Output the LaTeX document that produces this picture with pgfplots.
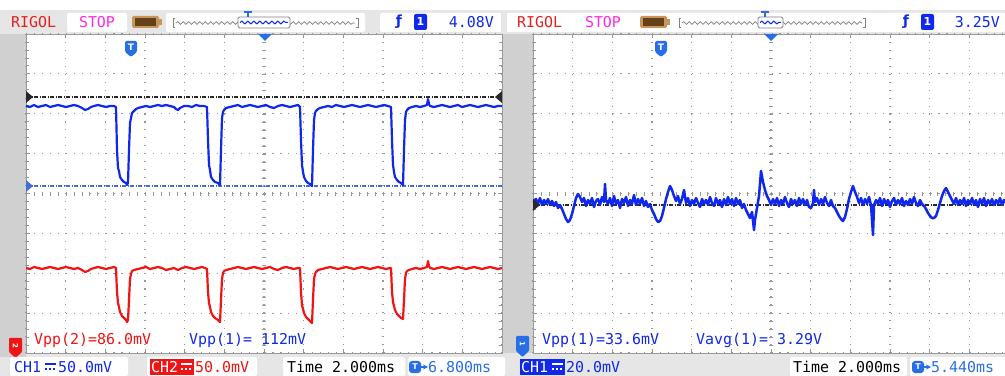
\documentclass[border=0pt]{standalone}
\usepackage{pgfplots}
\pgfplotsset{compat=1.18}
\usepackage{fontspec}
\setmainfont{DejaVu Sans}
\newfontfamily\scopefont{DejaVu Sans Mono}
\usetikzlibrary{decorations.pathmorphing}
\definecolor{hdr}{RGB}{230,230,230}
\definecolor{side}{RGB}{208,208,208}
\definecolor{chb}{RGB}{16,40,235}
\definecolor{chr}{RGB}{240,20,20}
\definecolor{tb}{RGB}{40,110,230}
\definecolor{mag}{RGB}{255,40,230}
\definecolor{rig}{RGB}{230,30,30}
\definecolor{gridc}{RGB}{150,150,150}
\definecolor{brownA}{RGB}{100,65,25}
\definecolor{brownB}{RGB}{200,150,90}
\definecolor{trigl}{RGB}{40,40,40}
\definecolor{gndl}{RGB}{70,110,210}
\newcommand\SF{\scopefont\fontsize{15}{15}\selectfont}
\pgfplotsset{scopescreen/.style={
  scale only axis, width=476bp, height=319bp,
  y dir=reverse, ymin=34, ymax=353,
  axis line style={draw=gray!80, line width=0.8bp},
  xticklabels={}, yticklabels={},
  ytick={34,73.875,113.75,153.625,193.5,233.375,273.25,313.125,353},
  grid=major,
  major grid style={gridc, line width=1.1bp, dash pattern=on 1.1bp off 6.85bp},
  minor tick num=4, tick align=inside, major tick length=4bp, minor tick length=3bp,
  tick style={gridc, line width=0.8bp},
  axis background/.style={fill=white},
  clip=true,
}}
\begin{document}
\begin{tikzpicture}
\useasboundingbox (0,0) rectangle (1005bp,376bp);
\clip (0,0) rectangle (1005bp,376bp);
\fill[hdr] (0,0) rectangle (1005bp,376bp);
\fill[white] (0,366bp) rectangle (1005bp,376bp);
\fill[side] (0,23bp) rectangle (26bp,342bp);
\fill[side] (502bp,23bp) rectangle (533bp,342bp);
\fill[side] (0,19bp) rectangle (26bp,23bp);

% ---------------- left screen ----------------
\begin{axis}[scopescreen, at={(26bp,23bp)}, anchor=south west,
  xmin=26, xmax=502,
  xtick={26,65.667,105.333,145,184.667,224.333,264,303.667,343.333,383,422.667,462.333,502}]
\addplot[gridc, line width=4bp, dash pattern=on 0.9bp off 7.03bp] coordinates {(26,193.5) (502,193.5)};
\addplot[gridc, line width=4bp, dash pattern=on 0.9bp off 7.075bp] coordinates {(264,34) (264,353)};
\addplot[trigl, line width=1.4bp, dash pattern=on 4bp off 1.5bp on 1bp off 1.5bp] coordinates {(26,97) (502,97)};
\addplot[gndl, line width=1.4bp, dash pattern=on 4bp off 1.5bp on 1bp off 1.5bp] coordinates {(26,186) (502,186)};
% CH1 (blue)
\addplot[chb, line width=2.2bp, line join=round] coordinates {
(26,106) (30,107) (34,105) (38,107) (42,106) (46,105) (50,107) (54,106) (58,105) (62,106)
(66,107) (70,106) (74,105) (78,106) (82,108) (85,110) (88,109) (91,107) (94,106) (98,105)
(102,106) (106,107) (110,106) (114,106) (116,107) (117,150) (118,168) (119,171) (120,177) (122,180)
(124,182) (126,183) (127,185) (128,183) (129,150) (130,123) (131,118) (132,113) (134,111) (136,109)
(138,108) (142,107) (146,106) (150,107) (154,106) (158,105) (162,106) (166,105) (170,106) (174,107)
(176,109) (178,110) (180,108) (184,106) (188,106) (192,107) (196,105) (200,106) (204,106) (207,107)
(208,140) (209,165) (210,170) (211,177) (213,180) (215,182) (218,183) (220,185) (221,150) (222,118)
(223,112) (224,110) (226,108) (230,107) (234,106) (238,105) (242,107) (246,106) (250,105) (254,106)
(258,107) (262,106) (266,105) (270,107) (274,108) (278,106) (282,105) (286,106) (290,107) (294,106)
(298,105) (300,107) (301,140) (302,165) (303,172) (304,177) (306,181) (308,183) (310,184) (312,186)
(313,150) (314,120) (315,113) (316,111) (318,109) (320,108) (324,107) (328,106) (332,107) (336,105)
(340,106) (344,107) (348,106) (352,105) (356,106) (360,107) (364,106) (368,105) (372,106) (376,107)
(380,106) (384,105) (388,106) (391,107) (392,140) (393,165) (394,172) (395,177) (397,180) (399,182)
(401,183) (403,185) (404,150) (405,120) (406,112) (407,110) (409,108) (412,107) (416,106) (420,107)
(424,106) (427,105) (428,99) (429,104) (430,106) (434,107) (438,106) (442,105) (446,106) (450,107)
(454,106) (458,105) (462,107) (466,106) (470,105) (474,106) (478,107) (482,106) (486,105) (490,106)
(494,107) (498,106) (502,106)};
% CH2 (red)
\addplot[chr, line width=2.2bp, line join=round] coordinates {
(26,268) (30,269) (34,267) (38,268) (42,269) (46,268) (50,267) (54,268) (58,269) (62,268)
(66,267) (70,268) (74,269) (78,268) (82,270) (85,272) (88,271) (91,269) (94,268) (98,267)
(102,268) (106,269) (110,268) (114,267) (116,268) (117,292) (118,303) (119,307) (120,312) (122,316)
(124,318) (126,320) (127,322) (128,320) (129,300) (130,279) (131,274) (132,271) (134,270) (138,269)
(142,268) (146,267) (150,269) (154,268) (158,267) (162,268) (166,270) (170,269) (174,268) (178,270)
(182,268) (186,267) (190,268) (194,269) (198,268) (202,267) (205,268) (207,269) (208,292) (209,303)
(210,307) (211,312) (213,316) (215,318) (218,320) (220,322) (221,300) (222,279) (223,273) (224,271)
(226,270) (230,269) (234,268) (238,267) (242,268) (246,269) (250,268) (254,267) (258,268) (262,269)
(266,268) (270,267) (274,269) (278,270) (282,268) (286,267) (290,268) (294,269) (298,268) (300,268)
(301,292) (302,305) (303,309) (304,313) (306,317) (308,319) (310,321) (312,323) (313,300) (314,279)
(315,274) (316,272) (318,270) (322,269) (326,268) (330,267) (334,268) (338,269) (342,268) (346,267)
(350,268) (354,269) (358,268) (362,267) (366,268) (370,269) (374,268) (378,267) (382,268) (386,269)
(390,268) (391,268) (392,292) (393,302) (394,306) (395,310) (397,314) (399,316) (401,318) (403,319)
(404,300) (405,279) (406,273) (407,271) (409,270) (412,269) (416,268) (420,269) (424,268) (427,267)
(428,261) (429,266) (430,268) (434,269) (438,268) (442,267) (446,268) (450,269) (454,268) (458,267)
(462,268) (466,269) (470,268) (474,267) (478,268) (482,269) (486,268) (490,267) (494,268) (498,269)
(502,268)};
\node[anchor=west, inner sep=0, text=chr] at (axis cs:34,340) {\SF Vpp(2)=86.0mV};
\node[anchor=west, inner sep=0, text=chb] at (axis cs:189,340) {\SF Vpp(1)= 112mV};
\end{axis}

% ---------------- right screen ----------------
\begin{axis}[scopescreen, at={(533bp,23bp)}, anchor=south west,
  xmin=533, xmax=1009,
  xtick={533,572.667,612.333,652,691.667,731.333,771,810.667,850.333,890,929.667,969.333,1009}]
\addplot[gridc, line width=4bp, dash pattern=on 0.9bp off 7.03bp] coordinates {(533,193.5) (1009,193.5)};
\addplot[gridc, line width=4bp, dash pattern=on 0.9bp off 7.075bp] coordinates {(771,34) (771,353)};
\addplot[trigl, line width=1.4bp, dash pattern=on 4bp off 1.5bp on 1bp off 1.5bp] coordinates {(533,205) (1009,205)};
\addplot[chb, line width=2.5bp, line join=round] coordinates {
(533,202) (536,199) (538,204) (540,198) (542,205) (544,200) (546,204) (548,199) (550,205) (552,201)
(554,206) (556,202) (558,208) (560,205) (562,209) (564,214) (566,219) (568,222) (570,220) (572,214)
(574,206) (576,198) (578,194) (580,197) (582,202) (584,198) (586,206) (588,200) (590,204) (592,198)
(594,207) (596,201) (598,199) (600,205) (602,197) (604,202) (605,184) (606,200) (608,204) (610,198)
(612,206) (614,196) (616,204) (618,200) (620,208) (622,199) (624,203) (626,197) (628,206) (630,200)
(632,204) (634,195) (636,205) (638,199) (640,204) (642,198) (644,206) (646,201) (648,207) (650,204)
(652,210) (654,214) (656,219) (658,222) (660,221) (662,216) (664,208) (666,199) (668,192) (670,186)
(672,190) (674,196) (676,201) (678,196) (680,204) (682,199) (684,190) (686,203) (688,198) (690,206)
(692,200) (694,204) (696,198) (698,203) (700,207) (702,199) (704,204) (706,200) (708,205) (710,197)
(712,203) (714,206) (716,198) (718,204) (720,200) (722,207) (724,199) (726,205) (728,197) (730,204)
(732,199) (734,206) (736,198) (738,204) (740,200) (742,208) (744,204) (746,210) (748,214) (750,218)
(752,212) (754,230) (755,220) (757,208) (759,196) (761,171) (763,182) (765,190) (767,196) (769,200)
(771,205) (773,199) (775,204) (777,198) (779,206) (781,200) (783,204) (785,197) (787,203) (789,207)
(791,199) (793,204) (795,200) (797,206) (799,198) (801,204) (803,199) (805,205) (807,200) (809,207)
(811,208) (813,203) (814,190) (815,202) (817,198) (819,205) (821,199) (823,204) (825,197) (827,203)
(829,206) (831,200) (833,206) (835,208) (837,212) (839,216) (841,219) (843,221) (845,217) (847,209)
(849,199) (851,192) (853,186) (855,192) (857,197) (859,203) (861,198) (863,205) (865,199) (867,204)
(869,197) (871,205) (873,235) (874,205) (876,200) (878,204) (880,198) (882,206) (884,199) (886,204)
(888,200) (890,207) (892,201) (894,198) (896,205) (898,200) (900,204) (902,198) (904,206) (906,201)
(908,205) (910,199) (912,204) (914,197) (916,203) (918,206) (920,200) (922,204) (924,206) (926,209)
(928,213) (930,216) (932,218) (934,218) (936,216) (938,210) (940,203) (942,196) (944,191) (946,188)
(948,192) (950,196) (952,200) (954,204) (956,198) (958,205) (960,200) (962,204) (964,198) (966,206)
(968,200) (970,204) (972,198) (974,205) (976,200) (978,207) (980,199) (982,204) (984,198) (986,206)
(988,200) (990,204) (992,199) (994,205) (996,200) (998,204) (1000,198) (1002,205) (1004,200) (1006,203)
(1009,202)};
\node[anchor=west, inner sep=0, text=chb] at (axis cs:542,340) {\SF Vpp(1)=33.6mV};
\node[anchor=west, inner sep=0, text=chb] at (axis cs:696,340) {\SF Vavg(1)= 3.29V};
\end{axis}

% ---------------- decorations (pixel units, y up) ----------------
\begin{scope}[x=1bp,y=1bp]
% edge markers
\fill[trigl] (26,376-91) -- (26,376-103) -- (33,376-97) -- cycle;
\fill[trigl] (502,376-91) -- (502,376-103) -- (495,376-97) -- cycle;
\fill[gndl] (26,376-180) -- (26,376-192) -- (33,376-186) -- cycle;
\fill[trigl] (533,376-199) -- (533,376-211) -- (540,376-205) -- cycle;
% top triangles
\fill[tb] (258,376-34) -- (272,376-34) -- (265,376-41) -- cycle;
\fill[tb] (764,376-34) -- (778,376-34) -- (771,376-41) -- cycle;
% T markers
\foreach \cx in {131,661} {
  \fill[tb, rounded corners=1.5bp] (\cx-6,376-41) -- (\cx+6,376-41) -- (\cx+6,376-52) -- (\cx,376-57) -- (\cx-6,376-52) -- cycle;
  \node[text=white, inner sep=0, font=\bfseries\fontsize{9}{9}\selectfont] at (\cx,376-47.5) {T};
}
% bottom channel flags
\fill[chr, rounded corners=1bp] (9,376-338) -- (22,376-338) -- (22,376-352) -- (15.5,376-358) -- (9,376-352) -- cycle;
\node[text=white, inner sep=0, rotate=-90, font=\bfseries\fontsize{7}{7}\selectfont] at (15.5,376-346) {2};
\fill[tb, rounded corners=1bp] (516,376-336) -- (529,376-336) -- (529,376-351) -- (522.5,376-357) -- (516,376-351) -- cycle;
\node[text=white, inner sep=0, rotate=-90, font=\bfseries\fontsize{7}{7}\selectfont] at (522.5,376-344) {1};

% ---------- header ----------
\foreach \ox/\stopA/\stopB/\batA/\memA/\memB/\hA/\hB/\trA/\val/\tx in
  {0/67/127/132/166/365/238/290/380/4.08V/248, 506/573/633/640/672/872/758/783/887/3.25V/765} {
  \node[anchor=west, inner sep=0, text=rig] at (\ox+11,376-22) {\SF RIGOL};
  \fill[white, rounded corners=2bp] (\stopA,376-32) rectangle (\stopB,376-13);
  \node[inner sep=0, text=mag] at ({(\stopA+\stopB)/2},376-22) {\SF STOP};
  \fill[brownB, rounded corners=1.5bp] (\batA,376-28) rectangle (\batA+27,376-16);
  \fill[brownA] (\batA+3,376-26) rectangle (\batA+24,376-18);
  \fill[brownB] (\batA+27,376-25) rectangle (\batA+30,376-19);
  \fill[white, rounded corners=2bp] (\memA,376-32) rectangle (\memB,376-13);
  \draw[gray, line width=0.8bp] (\memA+9,376-18) -- (\memA+7,376-18) -- (\memA+7,376-27) -- (\memA+9,376-27);
  \draw[gray, line width=0.8bp] (\memB-9,376-18) -- (\memB-7,376-18) -- (\memB-7,376-27) -- (\memB-9,376-27);
  \draw[gray, line width=0.7bp, decorate, decoration={snake, amplitude=1.3bp, segment length=5.5bp}] (\memA+10,376-23) -- (\memB-10,376-23);
  \fill[white] (\hA,376-28) rectangle (\hB,376-17);
  \draw[gray, line width=0.8bp, rounded corners=1.5bp] (\hA,376-28) rectangle (\hB,376-17);
  \draw[chb, line width=1bp, decorate, decoration={snake, amplitude=1.4bp, segment length=6bp}] (\hA+2,376-22.5) -- (\hB-2,376-22.5);
  \draw[tb, line width=1.2bp] (\tx-4,376-12) -- (\tx+4,376-12) (\tx,376-12) -- (\tx,376-17);
  \fill[white, rounded corners=2bp] (\trA,376-32) rectangle (1005,376-13);
  \node[inner sep=0, text=chb, font=\bfseries\fontsize{14}{14}\selectfont] at (\trA+19,376-22) {ƒ};
  \fill[chb, rounded corners=2bp] (\trA+34,376-30) rectangle (\trA+47,376-14);
  \node[inner sep=0, text=white, font=\bfseries\fontsize{11}{11}\selectfont] at (\trA+40.5,376-22) {1};
  \node[anchor=east, inner sep=0, text=chb] at (\ox+494,376-22) {\SF \val};
}
% left header box separator
\fill[hdr] (501,376-33) rectangle (507,376-12);

% ---------- footer ----------
\fill[hdr] (0,0) rectangle (1005,19);
% left footer
\fill[white, rounded corners=2bp] (10,0) rectangle (128,19);
\node[anchor=west, inner sep=0, text=chb] at (14,9) {\SF CH1};
\draw[chb, line width=1.2bp] (45,12) -- (56,12);
\draw[chb, line width=1.2bp, dash pattern=on 2bp off 2bp] (45,7) -- (56,7);
\node[anchor=west, inner sep=0, text=chb] at (58,9) {\SF 50.0mV};
\fill[white, rounded corners=2bp] (147,0) rectangle (257,19);
\fill[chr] (150,1) rectangle (194,17);
\node[anchor=west, inner sep=0, text=white] at (151,9) {\SF CH2};
\draw[white, line width=1.2bp] (181,12) -- (192,12);
\draw[white, line width=1.2bp, dash pattern=on 2bp off 2bp] (181,7) -- (192,7);
\node[anchor=west, inner sep=0, text=chr] at (195,9) {\SF 50.0mV};
\fill[white, rounded corners=2bp] (283,0) rectangle (405,19);
\node[anchor=west, inner sep=0, text=black] at (287,9) {\SF Time 2.000ms};
\fill[white, rounded corners=2bp] (408,0) rectangle (505,19);
\fill[tb, rounded corners=3bp] (409,3) rectangle (421,15);
\node[inner sep=0, text=white, font=\bfseries\fontsize{8}{8}\selectfont] at (415,9) {T};
\draw[tb, line width=1.2bp, -stealth] (420,9) -- (428,9);
\node[anchor=west, inner sep=0, text=tb] at (428,9) {\SF 6.800ms};
% right footer
\fill[chb] (520,1) rectangle (565,17);
\node[anchor=west, inner sep=0, text=white] at (521,9) {\SF CH1};
\draw[white, line width=1.2bp] (552,12) -- (563,12);
\draw[white, line width=1.2bp, dash pattern=on 2bp off 2bp] (552,7) -- (563,7);
\node[anchor=west, inner sep=0, text=chb] at (566,9) {\SF 20.0mV};
\fill[white, rounded corners=2bp] (790,0) rectangle (907,19);
\node[anchor=west, inner sep=0, text=black] at (793,9) {\SF Time 2.000ms};
\fill[white, rounded corners=2bp] (910,0) rectangle (1010,19);
\fill[tb, rounded corners=3bp] (912,3) rectangle (924,15);
\node[inner sep=0, text=white, font=\bfseries\fontsize{8}{8}\selectfont] at (918,9) {T};
\draw[tb, line width=1.2bp, -stealth] (923,9) -- (931,9);
\node[anchor=west, inner sep=0, text=tb] at (931,9) {\SF 5.440ms};
\end{scope}
\end{tikzpicture}
\end{document}
